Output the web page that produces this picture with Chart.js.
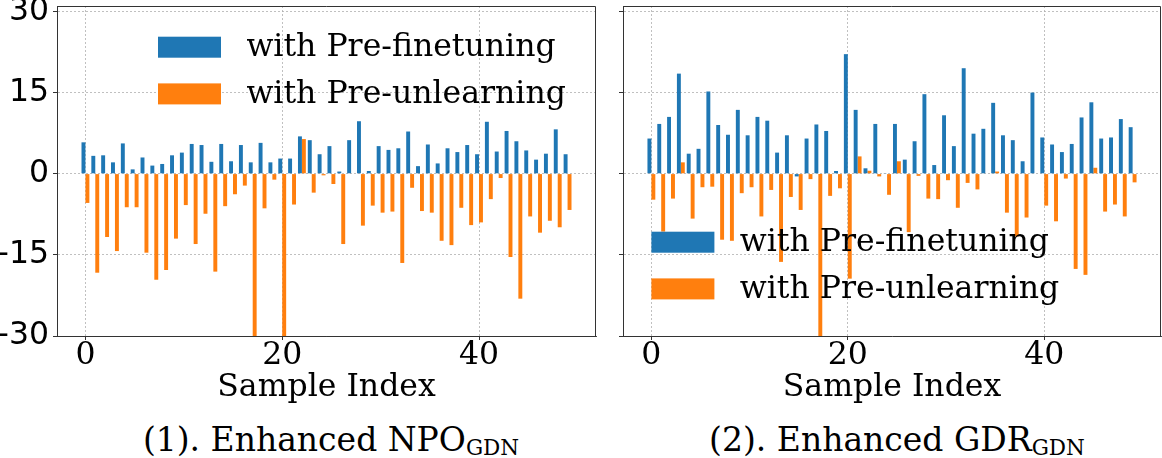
<!DOCTYPE html>
<html>
<head>
<meta charset="utf-8">
<script src="https://cdn.jsdelivr.net/npm/chart.js@4.4.0/dist/chart.umd.min.js"></script>
<style>
  body { margin: 0; background: #fff; overflow: hidden; }
  #wrap { position: relative; width: 1162px; height: 458px; }
  canvas { position: absolute; top: 0; }
  .cap {
    position: absolute; top: 423px; width: 500px; text-align: center;
    font-family: "DejaVu Serif", serif; font-size: 33px; line-height: 34px; color: #000;
    white-space: nowrap;
  }
  .cap sub { font-size: 21.5px; vertical-align: baseline; position: relative; top: 4px; }
</style>
</head>
<body>
<div id="wrap">
  <canvas id="npoChart" width="600" height="415" style="left:0"></canvas>
  <canvas id="gdrChart" width="557" height="415" style="left:605px"></canvas>
  <div class="cap" style="left:81px">(1). Enhanced NPO<sub>GDN</sub></div>
  <div class="cap" style="left:647px">(2). Enhanced GDR<sub>GDN</sub></div>
</div>
<script>
const sampleIndex = [0, 1, 2, 3, 4, 5, 6, 7, 8, 9, 10, 11, 12, 13, 14, 15, 16, 17, 18, 19,
  20, 21, 22, 23, 24, 25, 26, 27, 28, 29, 30, 31, 32, 33, 34, 35, 36, 37, 38, 39,
  40, 41, 42, 43, 44, 45, 46, 47, 48, 49];

// (1) Enhanced NPO_GDN
const npoPreFinetune = [5.8, 3.3, 3.4, 2.1, 5.6, 0.8, 3.0, 1.5, 1.8, 3.4, 3.9, 5.5, 5.3, 2.2, 5.5, 2.3, 5.3, 2.1, 5.7, 2.1,
  2.8, 2.8, 6.9, 6.2, 3.6, 5.1, 0.4, 6.2, 9.7, 0.5, 5.1, 4.4, 4.7, 7.8, 1.4, 5.4, 1.9, 4.7, 4.0, 5.3,
  3.6, 9.6, 4.1, 7.9, 6.0, 4.3, 2.6, 3.7, 8.2, 3.6];
const npoPreUnlearn = [-5.4, -18.3, -11.7, -14.3, -6.2, -6.2, -14.6, -19.6, -17.8, -12.0, -5.8, -13.0, -7.4, -18.1, -6.0, -3.8, -2.2, -32, -6.4, -1.1,
  -32, -5.7, 6.4, -3.5, -0.3, -1.9, -13.0, 0, -9.6, -5.9, -7.2, -7.0, -16.5, -2.6, -6.9, -7.2, -12.4, -13.2, -6.3, -9.5,
  -9.0, -4.7, -0.8, -15.4, -23.1, -7.9, -10.9, -8.7, -9.9, -6.7];

// (2) Enhanced GDR_GDN
const gdrPreFinetune = [6.5, 9.2, 10.5, 18.5, 3.7, 4.6, 15.2, 9.0, 7.2, 11.8, 7.1, 10.5, 9.8, 3.9, 7.1, -0.5, 6.5, 9.1, 7.9, 0.5,
  22.1, 11.8, 1.0, 9.2, 0.1, 9.2, 2.6, 6.0, 14.7, 1.6, 10.8, 5.1, 19.5, 7.4, 8.3, 13.1, 7.1, 6.2, 2.3, 15.0,
  6.7, 5.4, 4.0, 5.5, 10.4, 13.2, 6.5, 6.7, 10.1, 8.6];
const gdrPreUnlearn = [-4.8, -10.7, -4.6, 2.1, -8.3, -2.5, -2.4, -12.2, -12.4, -3.6, -2.5, -7.9, -3.0, -16.3, -4.3, -6.7, -1.0, -32, -4.1, -2.7,
  -19.4, 3.2, 0.55, -0.5, -3.9, 2.3, -10.8, -0.4, -4.6, -4.7, -1.2, -6.3, -1.7, -2.9, 0, 0.4, -7.2, -11.6, -8.1, 0,
  -5.9, -8.8, -0.9, -17.6, -18.7, 1.1, -7.0, -5.7, -7.9, -1.6];

const xTicks = [0, 20, 40];
const yTicks = [-30, -15, 0, 15, 30];
const seriesNames = ['with Pre-finetuning', 'with Pre-unlearning'];
const seriesColors = ['#1f77b4', '#ff7f0e'];

const GRID = '#b0b0b0';
const AXIS = '#333';
const FONT_SIZE = 31.5;

// draws the top and right spines that chart.js leaves out
const frame = {
  id: 'frame',
  afterDraw(chart) {
    const { ctx, chartArea: a } = chart;
    ctx.save();
    ctx.strokeStyle = AXIS;
    ctx.lineWidth = 1;
    ctx.beginPath();
    ctx.moveTo(a.left, a.top + 0.5);
    ctx.lineTo(a.right - 0.5, a.top + 0.5);
    ctx.lineTo(a.right - 0.5, a.bottom);
    ctx.stroke();
    ctx.restore();
  }
};

// matplotlib style legend sitting inside the plot
const boxLegend = {
  id: 'boxLegend',
  afterDraw(chart, args, o) {
    const { ctx, chartArea: a } = chart;
    ctx.save();
    ctx.font = o.font;
    ctx.textBaseline = 'middle';
    chart.data.datasets.forEach((ds, i) => {
      const x = a.left + o.x;
      const y = a.top + o.y + i * o.rowGap;
      ctx.fillStyle = ds.backgroundColor;
      ctx.fillRect(x, y, o.boxW, o.boxH);
      ctx.fillStyle = '#000';
      ctx.fillText(ds.label, x + o.textGap, y + o.boxH / 2 + 1);
    });
    ctx.restore();
  }
};

function makeChart(id, finetune, unlearn, yWidth, showYLabels, pad, legendPos) {
  const pts = vals => sampleIndex.map((s, i) => ({ x: s, y: vals[i] }));
  return new Chart(document.getElementById(id), {
    type: 'bar',
    data: {
      datasets: [
        { label: seriesNames[0], data: pts(finetune), backgroundColor: seriesColors[0], clip: 0,
          categoryPercentage: 0.8, barPercentage: 1.0 },
        { label: seriesNames[1], data: pts(unlearn), backgroundColor: seriesColors[1], clip: 0,
          categoryPercentage: 0.8, barPercentage: 1.0 }
      ]
    },
    options: {
      responsive: false,
      animation: false,
      devicePixelRatio: 1,
      layout: { padding: pad },
      plugins: {
        legend: { display: false },
        tooltip: { enabled: false },
        boxLegend: Object.assign({ font: FONT_SIZE + 'px "DejaVu Serif"', boxW: 63, boxH: 21, rowGap: 46.7, textGap: 88.4 }, legendPos)
      },
      scales: {
        x: {
          type: 'linear', min: -2.89, max: 51.89, offset: false,
          afterBuildTicks: s => { s.ticks = xTicks.map(v => ({ value: v })); },
          afterFit: s => { s.height = 79; s.paddingLeft = 0; s.paddingRight = 0; },
          ticks: { color: '#000', padding: -3, maxRotation: 0, font: { family: 'DejaVu Serif', size: FONT_SIZE } },
          grid: { offset: false, color: GRID, lineWidth: 0.8, tickColor: AXIS, tickLength: 4, tickWidth: 1 },
          border: { color: AXIS, width: 1, dash: [2, 2] },
          title: { display: true, text: 'Sample Index', color: '#000',
            font: { family: 'DejaVu Serif', size: FONT_SIZE }, padding: { top: 0, bottom: 8 } }
        },
        y: {
          min: -30, max: 31,
          afterBuildTicks: s => { s.ticks = yTicks.map(v => ({ value: v })); },
          afterFit: s => { s.width = yWidth; s.paddingTop = 0; s.paddingBottom = 0; },
          ticks: { display: showYLabels, color: '#000', padding: 4,
            font: { family: 'DejaVu Sans', size: FONT_SIZE }, callback: v => String(v) },
          grid: { color: GRID, lineWidth: 0.8, tickColor: AXIS, tickLength: 4, tickWidth: 1 },
          border: { color: AXIS, width: 1, dash: [2, 2] }
        }
      }
    },
    plugins: [frame, boxLegend]
  });
}

makeChart('npoChart', npoPreFinetune, npoPreUnlearn, 57, true,
  { top: 6, right: 4, left: 0, bottom: 0 }, { x: 101, y: 30.7 });
makeChart('gdrChart', gdrPreFinetune, gdrPreUnlearn, 18, false,
  { top: 6, right: 1, left: 0, bottom: 0 }, { x: 28.4, y: 225.7 });
</script>
</body>
</html>
